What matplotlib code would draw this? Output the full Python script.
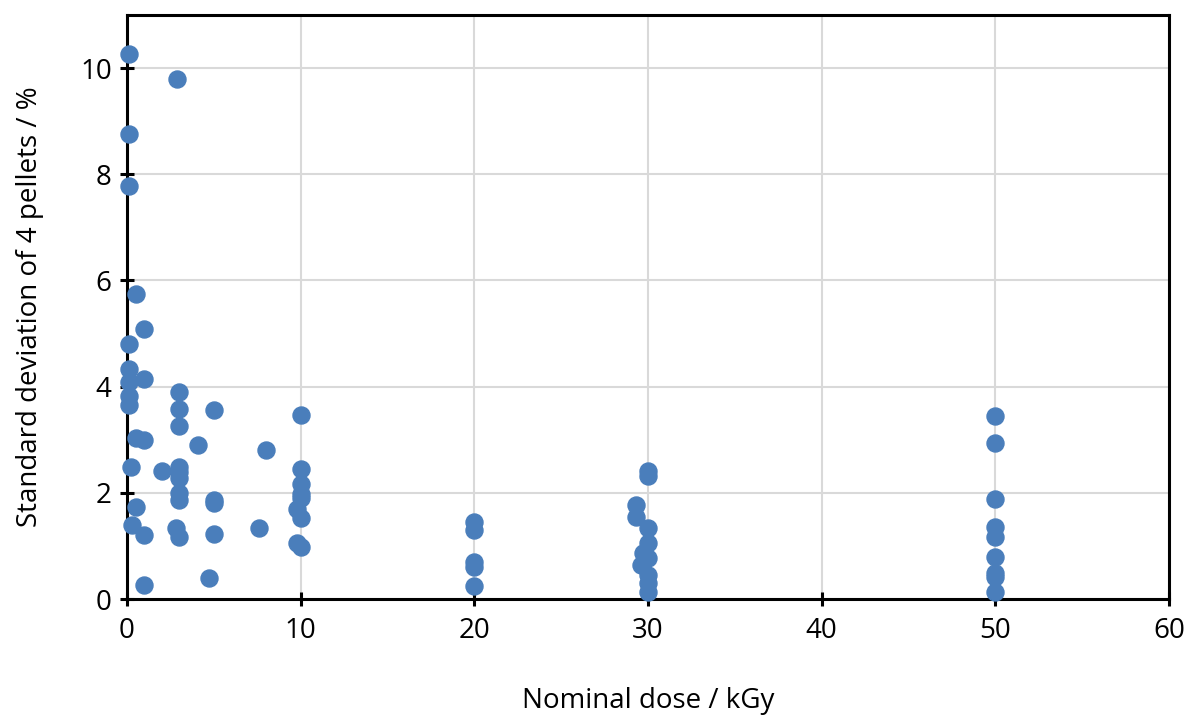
import matplotlib.pyplot as plt

plt.rcParams['font.family'] = ['Open Sans', 'DejaVu Sans']

dose = [0.1, 0.1, 0.1, 0.5, 1, 0.1, 0.1, 0.1, 0.1, 0.1, 1, 2.9,
        0.5, 1, 0.25, 0.5, 0.3, 1, 1,
        3, 3, 3, 4.1, 2, 3, 3, 3, 3, 3, 2.8, 3,
        5, 5, 5, 5, 4.7, 8, 7.6,
        10, 10, 10, 10, 10, 9.8, 10, 9.8, 10,
        20, 20, 20, 20, 20,
        30, 30, 29.3, 29.3, 30, 30, 29.7, 30, 29.6, 30, 30, 30,
        50, 50, 50, 50, 50, 50, 50, 50, 50]
sd = [10.26, 8.76, 7.78, 5.74, 5.08, 4.80, 4.33, 4.09, 3.82, 3.65, 4.14, 9.79,
      3.03, 2.99, 2.49, 1.73, 1.39, 1.20, 0.26,
      3.90, 3.58, 3.26, 2.90, 2.41, 2.49, 2.39, 2.28, 2.00, 1.87, 1.34, 1.17,
      3.56, 1.87, 1.80, 1.22, 0.40, 2.80, 1.34,
      3.47, 2.45, 2.17, 1.98, 1.90, 1.69, 1.53, 1.05, 0.98,
      1.45, 1.30, 0.70, 0.60, 0.24,
      2.42, 2.32, 1.77, 1.54, 1.34, 1.05, 0.87, 0.77, 0.64, 0.45, 0.30, 0.13,
      3.45, 2.94, 1.88, 1.36, 1.17, 0.79, 0.49, 0.42, 0.13]

fig = plt.figure(figsize=(11.89, 7.2), dpi=100)
ax = fig.add_axes([127 / 1189, 1 - 599 / 720, (1169 - 127) / 1189, (599 - 15) / 720])

ax.scatter(dose, sd, s=150, color='#4A7EBB', zorder=3, clip_on=False)

ax.set_xlim(0, 60)
ax.set_ylim(0, 11)
ax.set_xticks(range(0, 61, 10))
ax.set_yticks(range(0, 11, 2))
ax.grid(True, color='#d9d9d9', lw=1.5)
ax.set_axisbelow(True)

for spine in ax.spines.values():
    spine.set_color('black')
    spine.set_linewidth(2.2)

ax.tick_params(axis='both', direction='inout', length=10, width=2.2, labelsize=20)
ax.tick_params(axis='x', pad=8)
ax.tick_params(axis='y', pad=6)
ax.set_xlabel('Nominal dose / kGy', fontsize=20, labelpad=30)
ax.set_ylabel('Standard deviation of 4 pellets / %', fontsize=20, labelpad=26)

fig.savefig('out.png', dpi=100)
